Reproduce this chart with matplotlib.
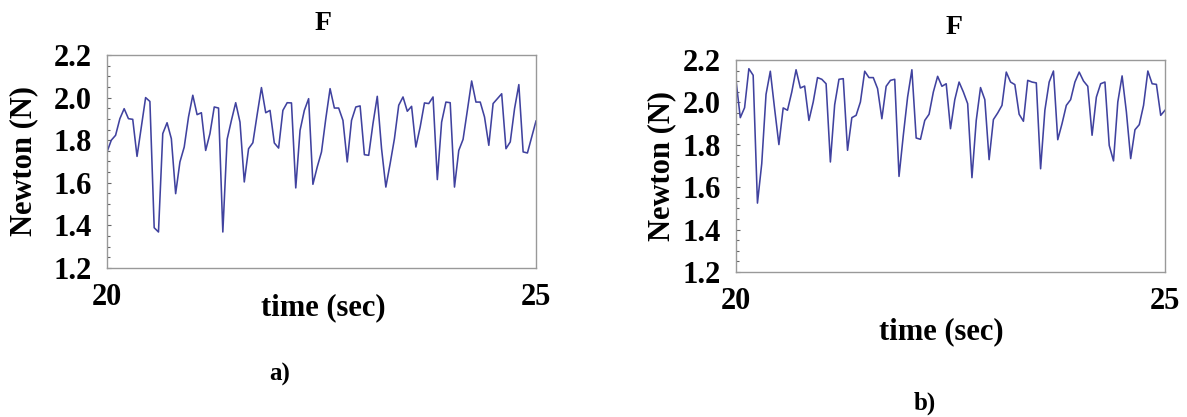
import numpy as np
import matplotlib
matplotlib.use("Agg")
import matplotlib.pyplot as plt
from matplotlib.ticker import MultipleLocator

# ---- data ----
t_start = 20.0
t_end = 25.0
dt = 0.05

force_a = [
    1.745, 1.800, 1.823, 1.901, 1.948, 1.901, 1.898, 1.724, 1.862, 2.000,
    1.982, 1.389, 1.369, 1.831, 1.882, 1.807, 1.549, 1.698, 1.768, 1.909,
    2.011, 1.920, 1.929, 1.752, 1.831, 1.956, 1.951, 1.369, 1.804, 1.893,
    1.976, 1.885, 1.604, 1.760, 1.788, 1.920, 2.047, 1.929, 1.940, 1.787,
    1.763, 1.940, 1.976, 1.975, 1.576, 1.846, 1.940, 1.995, 1.593, 1.674,
    1.745, 1.901, 2.042, 1.951, 1.951, 1.893, 1.698, 1.893, 1.956, 1.961,
    1.732, 1.729, 1.878, 2.006, 1.760, 1.580, 1.690, 1.807, 1.964, 2.003,
    1.936, 1.959, 1.768, 1.862, 1.975, 1.972, 2.003, 1.615, 1.885, 1.979,
    1.976, 1.580, 1.752, 1.804, 1.940, 2.078, 1.979, 1.979, 1.909, 1.776,
    1.972, 1.995, 2.018, 1.760, 1.792, 1.948, 2.061, 1.745, 1.740, 1.815,
    1.890,
]

force_b = [
    2.104, 1.928, 1.975, 2.159, 2.128, 1.525, 1.711, 2.038, 2.147, 1.970,
    1.801, 1.974, 1.963, 2.049, 2.154, 2.068, 2.077, 1.915, 2.002, 2.117,
    2.109, 2.088, 1.719, 1.989, 2.109, 2.112, 1.774, 1.928, 1.939, 2.002,
    2.147, 2.117, 2.117, 2.065, 1.923, 2.076, 2.104, 2.109, 1.651, 1.845,
    2.025, 2.154, 1.832, 1.826, 1.915, 1.944, 2.049, 2.123, 2.076, 2.088,
    1.876, 2.013, 2.096, 2.049, 1.994, 1.645, 1.915, 2.070, 2.013, 1.730,
    1.919, 1.950, 1.986, 2.143, 2.096, 2.084, 1.944, 1.911, 2.104, 2.096,
    2.092, 1.687, 1.963, 2.096, 2.148, 1.824, 1.900, 1.986, 2.013, 2.096,
    2.143, 2.101, 2.076, 1.845, 2.025, 2.088, 2.096, 1.797, 1.724, 2.002,
    2.125, 1.955, 1.735, 1.871, 1.895, 1.986, 2.148, 2.088, 2.085, 1.939,
    1.963,
]

x_ticks = [20, 25]
x_tick_labels = ["20", "25"]
y_ticks = [1.2, 1.4, 1.6, 1.8, 2.0, 2.2]
y_tick_labels = ["1.2", "1.4", "1.6", "1.8", "2.0", "2.2"]
title_text = "F"
xlabel_text = "time (sec)"
ylabel_text = "Newton (N)"
panel_labels = ["a)", "b)"]

# ---- figure ----
W, H = 1187, 417
fig = plt.figure(figsize=(W / 100, H / 100), dpi=100)
plt.rcParams['font.family'] = ['Liberation Serif', 'DejaVu Serif']
plt.rcParams['font.weight'] = 'bold'

line_color = '#40429f'
frame_color = '#999999'


def px(x, y):
    return x / W, 1 - y / H


def make_panel(box, values, title_xy, xlabel_xy, ylabel_xy, panel_xy, panel_label):
    l, t, r, b = box
    ax = fig.add_axes([l / W, 1 - b / H, (r - l) / W, (b - t) / H])
    times = t_start + dt * np.arange(len(values))
    ax.plot(times, values, color=line_color, lw=1.15)
    ax.set_xlim(t_start, t_end)
    ax.set_ylim(1.2, 2.2)
    for s in ax.spines.values():
        s.set_color(frame_color)
        s.set_linewidth(1.0)
    ax.set_xticks(x_ticks)
    ax.set_xticklabels(x_tick_labels, fontsize=22, fontweight='bold')
    ax.set_yticks(y_ticks)
    ax.set_yticklabels(y_tick_labels, fontsize=22, fontweight='bold')
    ax.yaxis.set_minor_locator(MultipleLocator(0.05))
    ax.tick_params(axis='x', length=0, pad=11)
    ax.tick_params(axis='y', which='major', direction='in', length=3,
                   width=0.8, color='#666666', pad=11)
    ax.tick_params(axis='y', which='minor', direction='in', length=2,
                   width=0.8, color='#666666')
    fx, fy = px(*title_xy)
    fig.text(fx, fy, title_text, ha='center', va='center', fontsize=20, fontweight='bold')
    fx, fy = px(*xlabel_xy)
    fig.text(fx, fy, xlabel_text, ha='center', va='center', fontsize=22, fontweight='bold')
    fx, fy = px(*ylabel_xy)
    fig.text(fx, fy, ylabel_text, ha='center', va='center', rotation=90,
             fontsize=22, fontweight='bold')
    fx, fy = px(*panel_xy)
    fig.text(fx, fy, panel_label, ha='center', va='center', fontsize=18, fontweight='bold')
    return ax


make_panel((107, 55, 536, 268), force_a, (323, 24), (323, 308), (24, 161), (280, 374), panel_labels[0])
make_panel((736, 60, 1165, 272), force_b, (954, 28), (941, 332), (662, 166), (925, 403), panel_labels[1])

fig.savefig("out.png", dpi=100)
